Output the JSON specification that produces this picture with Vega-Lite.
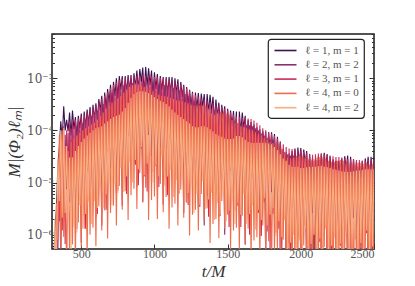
{
"$schema":"https://vega.github.io/schema/vega-lite/v6.json",
"width":322,"height":215,"autosize":"none",
"padding":{"left":52,"top":34,"right":41,"bottom":37},
"datasets":{"w":[
{"t":300,"a":2e-7,"b":1e-8,"c":1e-7,"d":1e-8,"e":1e-7},
{"t":310,"a":3e-7,"b":1e-7,"c":1e-8,"d":2e-7,"e":1e-8},
{"t":320,"a":1e-6,"b":1e-8,"c":5e-7,"d":1e-8,"e":2e-6},
{"t":330,"a":3e-6,"b":2e-6,"c":1e-7,"d":4e-6,"e":2e-7},
{"t":340,"a":2e-5,"b":4.5e-7,"c":1e-5,"d":8e-7,"e":3e-5},
{"t":350,"a":4.7e-5,"b":3.4e-5,"c":1.8e-6,"d":8e-5,"e":4.4e-6},
{"t":360,"a":1.5e-4,"b":3e-7,"c":8e-5,"d":5.4e-7,"e":1e-4},
{"t":370,"a":6.6e-5,"b":7.5e-5,"c":1.2e-6,"d":1e-4,"e":2.1e-6},
{"t":380,"a":2.9e-4,"b":1.8e-6,"c":1.2e-4,"d":9e-7,"e":1.1e-4},
{"t":390,"a":1e-4,"b":8.2e-5,"c":6.6e-7,"d":5e-5,"e":2.6e-6},
{"t":400,"a":1.6e-4,"b":7.5e-6,"c":1e-4,"d":1.4e-7,"e":5e-5},
{"t":410,"a":9.5e-5,"b":9e-5,"c":3.6e-6,"d":4e-5,"e":2e-6},
{"t":420,"a":2.2e-4,"b":4.2e-6,"c":1.4e-4,"d":4e-7,"e":3e-5},
{"t":430,"a":8e-5,"b":1.1e-4,"c":2.2e-6,"d":6e-5,"e":5e-7},
{"t":440,"a":2.4e-4,"b":3.6e-6,"c":1.6e-4,"d":6.5e-7,"e":3e-5},
{"t":450,"a":1.05e-4,"b":1.2e-4,"c":3.3e-6,"d":7e-5,"e":1.4e-6},
{"t":460,"a":1.8e-4,"b":1.3e-6,"c":1.6e-4,"d":3e-7,"e":4e-5},
{"t":470,"a":7.4e-5,"b":1.2e-4,"c":1.3e-6,"d":8e-5,"e":1.1e-6},
{"t":480,"a":1.9e-4,"b":7.8e-6,"c":1.7e-4,"d":1.7e-6,"e":5e-5},
{"t":490,"a":1.1e-4,"b":1.35e-4,"c":7.2e-6,"d":9e-5,"e":3.7e-6},
{"t":500,"a":2.1e-4,"b":7e-7,"c":1.85e-4,"d":5.7e-7,"e":6e-5},
{"t":510,"a":6.6e-5,"b":1.4e-4,"c":2.3e-6,"d":1e-4,"e":1.3e-6},
{"t":520,"a":2.3e-4,"b":3e-6,"c":2e-4,"d":1.3e-6,"e":7e-5},
{"t":530,"a":1.1e-4,"b":1.6e-4,"c":1.3e-6,"d":1.1e-4,"e":2.5e-6},
{"t":540,"a":2.5e-4,"b":1.65e-5,"c":2.2e-4,"d":3.5e-7,"e":8e-5},
{"t":550,"a":1.3e-4,"b":1.7e-4,"c":6.9e-6,"d":1.2e-4,"e":4.3e-6},
{"t":560,"a":2.8e-4,"b":7.2e-6,"c":2.4e-4,"d":1e-6,"e":9e-5},
{"t":570,"a":1e-4,"b":1.9e-4,"c":3.8e-6,"d":1.3e-4,"e":1.6e-6},
{"t":580,"a":3.1e-4,"b":5.9e-6,"c":2.6e-4,"d":1.35e-6,"e":1e-4},
{"t":590,"a":1.6e-4,"b":2.05e-4,"c":5.5e-6,"d":1.4e-4,"e":4.4e-6},
{"t":600,"a":3.3e-4,"b":2.2e-6,"c":2.9e-4,"d":6e-7,"e":1.1e-4},
{"t":610,"a":1.5e-4,"b":2.4e-4,"c":2.5e-6,"d":1.6e-4,"e":3.2e-6},
{"t":620,"a":4e-4,"b":1.5e-5,"c":3.4e-4,"d":3.5e-6,"e":1.15e-4},
{"t":630,"a":2.4e-4,"b":2.8e-4,"c":1.5e-5,"d":1.9e-4,"e":9.5e-6},
{"t":640,"a":4.6e-4,"b":1.5e-6,"c":4e-4,"d":1.2e-6,"e":1.2e-4},
{"t":650,"a":1.5e-4,"b":3.2e-4,"c":5.2e-6,"d":2.2e-4,"e":3.2e-6},
{"t":660,"a":5.3e-4,"b":6.9e-6,"c":4.6e-4,"d":2.9e-6,"e":1.35e-4},
{"t":670,"a":2.6e-4,"b":3.75e-4,"c":3e-6,"d":2.6e-4,"e":5.9e-6},
{"t":680,"a":6.2e-4,"b":4e-5,"c":5.4e-4,"d":8.4e-7,"e":1.5e-4},
{"t":690,"a":3.4e-4,"b":4.4e-4,"c":1.8e-5,"d":3e-4,"e":1e-5},
{"t":700,"a":7.5e-4,"b":1.9e-5,"c":6.4e-4,"d":2.6e-6,"e":1.65e-4},
{"t":710,"a":2.8e-4,"b":5.2e-4,"c":1e-5,"d":3.4e-4,"e":3.7e-6},
{"t":720,"a":8.5e-4,"b":1.7e-5,"c":7.4e-4,"d":3.6e-6,"e":1.8e-4},
{"t":730,"a":4.6e-4,"b":5.9e-4,"c":1.6e-5,"d":3.7e-4,"e":9.4e-6},
{"t":740,"a":1e-3,"b":6.3e-6,"c":8.4e-4,"d":1.5e-6,"e":1.9e-4},
{"t":750,"a":4.2e-4,"b":6.6e-4,"c":7e-6,"d":4e-4,"e":6.3e-6},
{"t":760,"a":1.1e-3,"b":4.1e-5,"c":9.2e-4,"d":8.6e-6,"e":2e-4},
{"t":770,"a":6e-4,"b":7e-4,"c":3.8e-5,"d":4.6e-4,"e":1.9e-5},
{"t":780,"a":1.1e-3,"b":3.6e-6,"c":9.6e-4,"d":3e-6,"e":2.3e-4},
{"t":790,"a":3.3e-4,"b":7.3e-4,"c":1.2e-5,"d":5.3e-4,"e":6.6e-6},
{"t":800,"a":1.1e-3,"b":1.5e-5,"c":1e-3,"d":6.8e-6,"e":2.7e-4},
{"t":810,"a":5e-4,"b":7.6e-4,"c":6e-6,"d":6e-4,"e":1.3e-5},
{"t":820,"a":1.15e-3,"b":7.7e-5,"c":1.03e-3,"d":1.9e-6,"e":3.4e-4},
{"t":830,"a":5.8e-4,"b":7.9e-4,"c":3.2e-5,"d":6.8e-4,"e":2.5e-5},
{"t":840,"a":1.15e-3,"b":3.2e-5,"c":1.06e-3,"d":5.7e-6,"e":4.2e-4},
{"t":850,"a":4.2e-4,"b":8e-4,"c":1.6e-5,"d":7.4e-4,"e":1e-5},
{"t":860,"a":1.25e-3,"b":2.4e-5,"c":1.08e-3,"d":7.6e-6,"e":5e-4},
{"t":870,"a":6.6e-4,"b":8.2e-4,"c":2.2e-5,"d":7.7e-4,"e":2.7e-5},
{"t":880,"a":1.4e-3,"b":8.3e-6,"c":1.1e-3,"d":3.1e-6,"e":5.4e-4},
{"t":890,"a":5.8e-4,"b":8.3e-4,"c":8.9e-6,"d":7.6e-4,"e":1.8e-5},
{"t":900,"a":1.5e-3,"b":5.1e-5,"c":1.13e-3,"d":1.5e-5,"e":5.6e-4},
{"t":910,"a":8.5e-4,"b":8.5e-4,"c":4.5e-5,"d":7.2e-4,"e":4.8e-5},
{"t":920,"a":1.6e-3,"b":4.2e-6,"c":1.13e-3,"d":4.2e-6,"e":5.6e-4},
{"t":930,"a":4.9e-4,"b":8.4e-4,"c":1.3e-5,"d":6.8e-4,"e":1.4e-5},
{"t":940,"a":1.65e-3,"b":1.7e-5,"c":1.12e-3,"d":7.9e-6,"e":5.5e-4},
{"t":950,"a":7.2e-4,"b":8.3e-4,"c":6.7e-6,"d":6.4e-4,"e":2.3e-5},
{"t":960,"a":1.55e-3,"b":8.2e-5,"c":1.1e-3,"d":1.9e-6,"e":5.2e-4},
{"t":970,"a":7.4e-4,"b":8.2e-4,"c":3.3e-5,"d":6e-4,"e":3.3e-5},
{"t":980,"a":1.4e-3,"b":3.2e-5,"c":1.08e-3,"d":4.6e-6,"e":4.8e-4},
{"t":990,"a":4.7e-4,"b":8e-4,"c":1.6e-5,"d":5.6e-4,"e":1e-5},
{"t":1000,"a":1.3e-3,"b":2.4e-5,"c":1.06e-3,"d":5.4e-6,"e":4.3e-4},
{"t":1010,"a":6.2e-4,"b":7.9e-4,"c":2.1e-5,"d":5.1e-4,"e":2.2e-5},
{"t":1020,"a":1.2e-3,"b":7.8e-6,"c":1.04e-3,"d":2e-6,"e":4e-4},
{"t":1030,"a":4.6e-4,"b":7.7e-4,"c":8.2e-6,"d":4.8e-4,"e":1.3e-5},
{"t":1040,"a":1.1e-3,"b":4.6e-5,"c":1.02e-3,"d":9.4e-6,"e":3.7e-4},
{"t":1050,"a":5.9e-4,"b":7.6e-4,"c":4e-5,"d":4.6e-4,"e":3.2e-5},
{"t":1060,"a":1.05e-3,"b":3.8e-6,"c":1e-3,"d":2.7e-6,"e":3.5e-4},
{"t":1070,"a":3.2e-4,"b":7.4e-4,"c":1.2e-5,"d":4.5e-4,"e":8.8e-6},
{"t":1080,"a":1.05e-3,"b":1.5e-5,"c":9.7e-4,"d":5.3e-6,"e":3.2e-4},
{"t":1090,"a":4.7e-4,"b":7.1e-4,"c":5.7e-6,"d":4.4e-4,"e":1.3e-5},
{"t":1100,"a":1.05e-3,"b":7e-5,"c":9.3e-4,"d":1.3e-6,"e":2.9e-4},
{"t":1110,"a":5.2e-4,"b":6.8e-4,"c":2.7e-5,"d":4.2e-4,"e":1.8e-5},
{"t":1120,"a":1.05e-3,"b":2.6e-5,"c":8.8e-4,"d":3.3e-6,"e":2.5e-4},
{"t":1130,"a":3.6e-4,"b":6.4e-4,"c":1.3e-5,"d":4e-4,"e":5.3e-6},
{"t":1140,"a":1e-3,"b":1.9e-5,"c":8.4e-4,"d":3.9e-6,"e":2.2e-4},
{"t":1150,"a":4.9e-4,"b":6.1e-4,"c":1.6e-5,"d":3.8e-4,"e":1.1e-5},
{"t":1160,"a":9.5e-4,"b":6e-6,"c":8e-4,"d":1.5e-6,"e":2e-4},
{"t":1170,"a":3.6e-4,"b":5.8e-4,"c":6.2e-6,"d":3.7e-4,"e":6.2e-6},
{"t":1180,"a":8.5e-4,"b":3.4e-5,"c":7.6e-4,"d":7.3e-6,"e":1.8e-4},
{"t":1190,"a":4.4e-4,"b":5.5e-4,"c":2.9e-5,"d":3.6e-4,"e":1.5e-5},
{"t":1200,"a":7.5e-4,"b":2.6e-6,"c":7e-4,"d":2.1e-6,"e":1.65e-4},
{"t":1210,"a":2.1e-4,"b":5e-4,"c":8e-6,"d":3.5e-4,"e":4.2e-6},
{"t":1220,"a":6.8e-4,"b":9.6e-6,"c":6.4e-4,"d":4.1e-6,"e":1.5e-4},
{"t":1230,"a":2.9e-4,"b":4.6e-4,"c":3.7e-6,"d":3.3e-4,"e":6.3e-6},
{"t":1240,"a":6e-4,"b":4.4e-5,"c":5.8e-4,"d":9.6e-7,"e":1.35e-4},
{"t":1250,"a":2.9e-4,"b":4.1e-4,"c":1.65e-5,"d":3.1e-4,"e":8.5e-6},
{"t":1260,"a":5.5e-4,"b":1.6e-5,"c":5.2e-4,"d":2.4e-6,"e":1.2e-4},
{"t":1270,"a":1.9e-4,"b":3.7e-4,"c":7.4e-6,"d":3e-4,"e":2.6e-6},
{"t":1280,"a":5.3e-4,"b":1.05e-5,"c":4.7e-4,"d":3e-6,"e":1.15e-4},
{"t":1290,"a":2.6e-4,"b":3.4e-4,"c":9.1e-6,"d":3e-4,"e":6e-6},
{"t":1300,"a":5.2e-4,"b":3.3e-6,"c":4.4e-4,"d":1.2e-6,"e":1.15e-4},
{"t":1310,"a":2.1e-4,"b":3.2e-4,"c":3.4e-6,"d":3e-4,"e":3.8e-6},
{"t":1320,"a":5.1e-4,"b":1.9e-5,"c":4.1e-4,"d":6e-6,"e":1.2e-4},
{"t":1330,"a":2.8e-4,"b":3e-4,"c":1.6e-5,"d":3e-4,"e":1.06e-5},
{"t":1340,"a":5e-4,"b":1.5e-6,"c":3.9e-4,"d":1.8e-6,"e":1.2e-4},
{"t":1350,"a":1.5e-4,"b":2.85e-4,"c":4.6e-6,"d":2.9e-4,"e":3.1e-6},
{"t":1360,"a":5e-4,"b":5.6e-6,"c":3.7e-4,"d":3.2e-6,"e":1.15e-4},
{"t":1370,"a":2.2e-4,"b":2.7e-4,"c":2.2e-6,"d":2.5e-4,"e":4.7e-6},
{"t":1380,"a":4.8e-4,"b":2.6e-5,"c":3.5e-4,"d":6.9e-7,"e":1.05e-4},
{"t":1390,"a":2.3e-4,"b":2.55e-4,"c":1e-5,"d":2.1e-4,"e":6.4e-6},
{"t":1400,"a":4.4e-4,"b":1e-5,"c":3.3e-4,"d":1.6e-6,"e":9.5e-5},
{"t":1410,"a":1.45e-4,"b":2.4e-4,"c":4.8e-6,"d":2e-4,"e":1.9e-6},
{"t":1420,"a":3.9e-4,"b":7e-6,"c":3.1e-4,"d":2e-6,"e":8.5e-5},
{"t":1430,"a":1.8e-4,"b":2.3e-4,"c":6.1e-6,"d":2.1e-4,"e":4.1e-6},
{"t":1440,"a":3.4e-4,"b":2.2e-6,"c":3e-4,"d":8.6e-7,"e":8e-5},
{"t":1450,"a":1.3e-4,"b":2.2e-4,"c":2.3e-6,"d":2.2e-4,"e":2.4e-6},
{"t":1460,"a":3.1e-4,"b":1.3e-5,"c":2.8e-4,"d":4.4e-6,"e":7.5e-5},
{"t":1470,"a":1.65e-4,"b":2e-4,"c":1.1e-5,"d":2.2e-4,"e":6.2e-6},
{"t":1480,"a":2.9e-4,"b":1e-6,"c":2.6e-4,"d":1.3e-6,"e":7e-5},
{"t":1490,"a":8.2e-5,"b":1.9e-4,"c":3e-6,"d":2.1e-4,"e":1.8e-6},
{"t":1500,"a":2.6e-4,"b":3.6e-6,"c":2.4e-4,"d":2.4e-6,"e":6.8e-5},
{"t":1510,"a":1.1e-4,"b":1.7e-4,"c":1.4e-6,"d":1.9e-4,"e":2.9e-6},
{"t":1520,"a":2.4e-4,"b":1.65e-5,"c":2.2e-4,"d":5.2e-7,"e":6.8e-5},
{"t":1530,"a":1.2e-4,"b":1.6e-4,"c":6.3e-6,"d":1.6e-4,"e":4.4e-6},
{"t":1540,"a":2.35e-4,"b":6e-6,"c":2e-4,"d":1.2e-6,"e":7e-5},
{"t":1550,"a":8.1e-5,"b":1.45e-4,"c":2.9e-6,"d":1.4e-4,"e":1.6e-6},
{"t":1560,"a":2.3e-4,"b":4.2e-6,"c":1.85e-4,"d":1.35e-6,"e":7.8e-5},
{"t":1570,"a":4e-6,"b":1.37e-4,"c":3.6e-6,"d":1.3e-4,"e":4e-6},
{"t":1580,"a":2.3e-4,"b":1.35e-6,"c":1.8e-4,"d":5e-7,"e":7.8e-5},
{"t":1590,"a":9e-5,"b":1.33e-4,"c":1.4e-6,"d":1.2e-4,"e":2.4e-6},
{"t":1600,"a":2.2e-4,"b":7.8e-6,"c":1.75e-4,"d":2.3e-6,"e":7.4e-5},
{"t":1610,"a":1.1e-4,"b":1.3e-4,"c":6.9e-6,"d":1.15e-4,"e":6e-6},
{"t":1620,"a":1.9e-4,"b":6.4e-7,"c":1.7e-4,"d":6.7e-7,"e":6.6e-5},
{"t":1630,"a":5.2e-5,"b":1.27e-4,"c":2e-6,"d":1.1e-4,"e":1.6e-6},
{"t":1640,"a":1.6e-4,"b":2.5e-6,"c":1.68e-4,"d":1.3e-6,"e":6e-5},
{"t":1650,"a":6.8e-5,"b":1.25e-4,"c":1e-6,"d":1.05e-4,"e":2.5e-6},
{"t":1660,"a":1.45e-4,"b":1.2e-5,"c":1.65e-4,"d":3.1e-7,"e":5.8e-5},
{"t":1670,"a":6.9e-5,"b":1.2e-4,"c":4.8e-6,"d":1e-4,"e":3.7e-6},
{"t":1680,"a":1.3e-4,"b":4.6e-6,"c":1.55e-4,"d":7.7e-7,"e":5.7e-5},
{"t":1690,"a":4.3e-5,"b":1.1e-4,"c":2.2e-6,"d":9.2e-5,"e":1.25e-6},
{"t":1700,"a":1.15e-4,"b":3.2e-6,"c":1.4e-4,"d":8.9e-7,"e":5.8e-5},
{"t":1710,"a":5.5e-5,"b":1e-4,"c":2.6e-6,"d":8.6e-5,"e":3e-6},
{"t":1720,"a":1.05e-4,"b":9.4e-7,"c":1.25e-4,"d":3.3e-7,"e":5.8e-5},
{"t":1730,"a":4e-5,"b":8.8e-5,"c":9.4e-7,"d":8e-5,"e":1.9e-6},
{"t":1740,"a":9.8e-5,"b":4.9e-6,"c":1.1e-4,"d":1.5e-6,"e":5.8e-5},
{"t":1750,"a":5.3e-5,"b":7.9e-5,"c":4.2e-6,"d":7.2e-5,"e":5e-6},
{"t":1760,"a":9.5e-5,"b":3.8e-7,"c":1e-4,"d":4.1e-7,"e":5.8e-5},
{"t":1770,"a":2.8e-5,"b":7.2e-5,"c":1.15e-6,"d":6.5e-5,"e":1.5e-6},
{"t":1780,"a":9.3e-5,"b":1.4e-6,"c":9.2e-5,"d":7.5e-7,"e":5.6e-5},
{"t":1790,"a":4.2e-5,"b":6.7e-5,"c":5.3e-7,"d":6e-5,"e":2.4e-6},
{"t":1800,"a":9.2e-5,"b":6.5e-6,"c":8.6e-5,"d":1.8e-7,"e":5.4e-5},
{"t":1810,"a":4.4e-5,"b":6.1e-5,"c":2.5e-6,"d":5.8e-5,"e":3.2e-6},
{"t":1820,"a":8.5e-5,"b":2.3e-6,"c":7.8e-5,"d":4.6e-7,"e":4.8e-5},
{"t":1830,"a":2.8e-5,"b":5.5e-5,"c":1.1e-6,"d":5.6e-5,"e":9.4e-7},
{"t":1840,"a":7.5e-5,"b":1.6e-6,"c":7e-5,"d":5.4e-7,"e":4.2e-5},
{"t":1850,"a":3.4e-5,"b":5e-5,"c":1.3e-6,"d":5.2e-5,"e":1.8e-6},
{"t":1860,"a":6e-5,"b":4.7e-7,"c":6.2e-5,"d":1.9e-7,"e":3.5e-5},
{"t":1870,"a":2.1e-5,"b":4.3e-5,"c":4.6e-7,"d":4.4e-5,"e":9e-7},
{"t":1880,"a":4.5e-5,"b":2.4e-6,"c":5.4e-5,"d":8e-7,"e":2.9e-5},
{"t":1890,"a":2.3e-5,"b":3.8e-5,"c":2e-6,"d":3.6e-5,"e":1.9e-6},
{"t":1900,"a":3.8e-5,"b":1.8e-7,"c":4.8e-5,"d":2e-7,"e":2.6e-5},
{"t":1910,"a":1.1e-5,"b":3.5e-5,"c":5.6e-7,"d":3e-5,"e":4.8e-7},
{"t":1920,"a":3.6e-5,"b":6.8e-7,"c":4.5e-5,"d":3.5e-7,"e":2.2e-5},
{"t":1930,"a":1.7e-5,"b":3.3e-5,"c":2.7e-7,"d":2.9e-5,"e":7e-7},
{"t":1940,"a":4e-5,"b":3.3e-6,"c":4.4e-5,"d":9e-8,"e":2e-5},
{"t":1950,"a":2.1e-5,"b":3.25e-5,"c":1.3e-6,"d":3e-5,"e":1e-6},
{"t":1960,"a":4.5e-5,"b":1.3e-6,"c":4.3e-5,"d":2.5e-7,"e":2e-5},
{"t":1970,"a":1.6e-5,"b":3.2e-5,"c":6.4e-7,"d":3.2e-5,"e":3.4e-7},
{"t":1980,"a":4.7e-5,"b":9.5e-7,"c":4.2e-5,"d":3.2e-7,"e":2e-5},
{"t":1990,"a":2.3e-5,"b":3.1e-5,"c":8.3e-7,"d":3.3e-5,"e":7.8e-7},
{"t":2000,"a":4.6e-5,"b":3.1e-7,"c":4.1e-5,"d":1.3e-7,"e":1.9e-5},
{"t":2010,"a":1.8e-5,"b":3e-5,"c":3.2e-7,"d":3.2e-5,"e":4.8e-7},
{"t":2020,"a":4.3e-5,"b":1.7e-6,"c":3.9e-5,"d":6.2e-7,"e":1.9e-5},
{"t":2030,"a":2.3e-5,"b":2.85e-5,"c":1.5e-6,"d":3e-5,"e":1.3e-6},
{"t":2040,"a":4e-5,"b":1.4e-7,"c":3.7e-5,"d":1.7e-7,"e":1.95e-5},
{"t":2050,"a":1.1e-5,"b":2.7e-5,"c":4.3e-7,"d":2.8e-5,"e":3.9e-7},
{"t":2060,"a":3.5e-5,"b":5.2e-7,"c":3.5e-5,"d":3.3e-7,"e":2e-5},
{"t":2070,"a":1.5e-5,"b":2.6e-5,"c":2.1e-7,"d":2.7e-5,"e":6.6e-7},
{"t":2080,"a":3e-5,"b":2.6e-6,"c":3.4e-5,"d":8e-8,"e":2e-5},
{"t":2090,"a":2e-7,"b":2.6e-5,"c":1e-6,"d":2.8e-5,"e":1e-6},
{"t":2100,"a":2.8e-5,"b":1.1e-6,"c":3.5e-5,"d":2.3e-7,"e":2e-5},
{"t":2110,"a":1.05e-5,"b":2.7e-5,"c":5.3e-7,"d":3e-5,"e":3.5e-7},
{"t":2120,"a":3.2e-5,"b":8e-7,"c":3.6e-5,"d":3e-7,"e":2.05e-5},
{"t":2130,"a":1.7e-5,"b":2.7e-5,"c":7.2e-7,"d":3.1e-5,"e":8.4e-7},
{"t":2140,"a":3.6e-5,"b":2.7e-7,"c":3.6e-5,"d":1.2e-7,"e":2.1e-5},
{"t":2150,"a":1.5e-5,"b":2.65e-5,"c":2.8e-7,"d":3e-5,"e":5.1e-7},
{"t":2160,"a":3.7e-5,"b":1.6e-6,"c":3.5e-5,"d":5.8e-7,"e":2e-5},
{"t":2170,"a":2e-5,"b":2.6e-5,"c":1.4e-6,"d":2.8e-5,"e":1.3e-6},
{"t":2180,"a":3.5e-5,"b":1.3e-7,"c":3.4e-5,"d":1.6e-7,"e":1.95e-5},
{"t":2190,"a":1e-5,"b":2.5e-5,"c":4e-7,"d":2.6e-5,"e":3.8e-7},
{"t":2200,"a":3.2e-5,"b":5e-7,"c":3.3e-5,"d":3.1e-7,"e":1.9e-5},
{"t":2210,"a":1.35e-5,"b":2.4e-5,"c":2e-7,"d":2.5e-5,"e":6.1e-7},
{"t":2220,"a":2.8e-5,"b":2.4e-6,"c":3.2e-5,"d":7.5e-8,"e":1.8e-5},
{"t":2230,"a":1.35e-5,"b":2.35e-5,"c":9.5e-7,"d":2.5e-5,"e":8.8e-7},
{"t":2240,"a":2.6e-5,"b":9.2e-7,"c":3.1e-5,"d":2e-7,"e":1.75e-5},
{"t":2250,"a":9.1e-6,"b":2.3e-5,"c":4.7e-7,"d":2.6e-5,"e":2.9e-7},
{"t":2260,"a":2.6e-5,"b":7e-7,"c":3.1e-5,"d":2.7e-7,"e":1.7e-5},
{"t":2270,"a":1.4e-5,"b":2.3e-5,"c":6.1e-7,"d":2.7e-5,"e":6.7e-7},
{"t":2280,"a":2.9e-5,"b":2.2e-7,"c":3e-5,"d":1.1e-7,"e":1.65e-5},
{"t":2290,"a":1.2e-5,"b":2.2e-5,"c":2.4e-7,"d":2.6e-5,"e":4e-7},
{"t":2300,"a":3.2e-5,"b":1.3e-6,"c":2.9e-5,"d":5e-7,"e":1.6e-5},
{"t":2310,"a":1.8e-5,"b":2.1e-5,"c":1.1e-6,"d":2.4e-5,"e":1.07e-6},
{"t":2320,"a":3.3e-5,"b":1e-7,"c":2.8e-5,"d":1.4e-7,"e":1.6e-5},
{"t":2330,"a":9.6e-6,"b":2.1e-5,"c":3.4e-7,"d":2.3e-5,"e":3.2e-7},
{"t":2340,"a":3.1e-5,"b":4.2e-7,"c":2.8e-5,"d":2.7e-7,"e":1.6e-5},
{"t":2350,"a":1.3e-5,"b":2.1e-5,"c":1.7e-7,"d":2.2e-5,"e":5.3e-7},
{"t":2360,"a":2.8e-5,"b":2.1e-6,"c":2.8e-5,"d":6.8e-8,"e":1.65e-5},
{"t":2370,"a":1.3e-5,"b":2.05e-5,"c":8.3e-7,"d":2.3e-5,"e":8.4e-7},
{"t":2380,"a":2.5e-5,"b":8e-7,"c":2.7e-5,"d":1.9e-7,"e":1.7e-5},
{"t":2390,"a":8.6e-6,"b":2e-5,"c":4e-7,"d":2.4e-5,"e":2.9e-7},
{"t":2400,"a":2.4e-5,"b":6e-7,"c":2.7e-5,"d":2.4e-7,"e":1.7e-5},
{"t":2410,"a":1.25e-5,"b":2e-5,"c":5.3e-7,"d":2.4e-5,"e":6.9e-7},
{"t":2420,"a":2.6e-5,"b":2e-7,"c":2.6e-5,"d":9.4e-8,"e":1.75e-5},
{"t":2430,"a":1e-6,"b":1.95e-5,"c":2.1e-7,"d":2.3e-5,"e":4.4e-7},
{"t":2440,"a":2.9e-5,"b":1.2e-6,"c":2.6e-5,"d":4.6e-7,"e":1.8e-5},
{"t":2450,"a":1.65e-5,"b":2e-5,"c":1.06e-6,"d":2.3e-5,"e":1.2e-6},
{"t":2460,"a":3.1e-5,"b":1e-7,"c":2.7e-5,"d":1.35e-7,"e":1.8e-5},
{"t":2470,"a":9.3e-6,"b":2e-5,"c":3.2e-7,"d":2.2e-5,"e":3.6e-7},
{"t":2480,"a":3.1e-5,"b":4e-7,"c":2.7e-5,"d":2.6e-7,"e":1.8e-5},
{"t":2490,"a":1.4e-5,"b":2e-5,"c":1.6e-7,"d":2.2e-5,"e":5.9e-7},
{"t":2500,"a":3e-5,"b":2e-6,"c":2.7e-5,"d":6.6e-8,"e":1.8e-5}
]},
"data":{"name":"w"},
"layer":[
{"mark":{"type":"line","clip":true,"strokeWidth":1.1},
 "encoding":{
  "x":{"field":"t","type":"quantitative","scale":{"domain":[300,2500],"nice":false,"zero":false},
   "axis":{"values":[500,1000,1500,2000,2500],"format":"d","title":"t/M","tickSize":-5,"labelPadding":4,"titlePadding":4}},
  "y":{"field":"a","type":"quantitative","scale":{"type":"log","domain":[5.3e-7,7.06e-3],"nice":false},
   "axis":{"orient":"left","title":"M|(Φ₂)ℓₘ|","titlePadding":3,"labelPadding":4,"labelFont":"DejaVu Serif","labelFontSize":12,
    "values":[6e-7,7e-7,8e-7,9e-7,1e-6,2e-6,3e-6,4e-6,5e-6,6e-6,7e-6,8e-6,9e-6,1e-5,2e-5,3e-5,4e-5,5e-5,6e-5,7e-5,8e-5,9e-5,1e-4,2e-4,3e-4,4e-4,5e-4,6e-4,7e-4,8e-4,9e-4,1e-3,2e-3,3e-3,4e-3,5e-3,6e-3,7e-3],
    "labelExpr":"datum.value==1e-6?'10⁻⁶':datum.value==1e-5?'10⁻⁵':datum.value==1e-4?'10⁻⁴':datum.value==1e-3?'10⁻³':''",
    "tickSize":{"condition":{"test":"indexof([1e-6,1e-5,1e-4,1e-3],datum.value)>=0","value":-5},"value":-2.5}}},
  "color":{"datum":"ℓ = 1, m = 1","type":"nominal","scale":{"domain":["ℓ = 1, m = 1","ℓ = 2, m = 2","ℓ = 3, m = 1","ℓ = 4, m = 0","ℓ = 4, m = 2"],"range":["#3d1152","#883272","#cc2a5b","#f06c4b","#f8ae80"]}}}},
{"mark":{"type":"line","clip":true,"strokeWidth":1.1},
 "encoding":{"x":{"field":"t","type":"quantitative"},"y":{"field":"b","type":"quantitative","axis":null},"color":{"datum":"ℓ = 2, m = 2","type":"nominal"}}},
{"mark":{"type":"line","clip":true,"strokeWidth":1.1},
 "encoding":{"x":{"field":"t","type":"quantitative"},"y":{"field":"c","type":"quantitative","axis":null},"color":{"datum":"ℓ = 3, m = 1","type":"nominal"}}},
{"mark":{"type":"line","clip":true,"strokeWidth":1.1},
 "encoding":{"x":{"field":"t","type":"quantitative"},"y":{"field":"d","type":"quantitative","axis":null},"color":{"datum":"ℓ = 4, m = 0","type":"nominal"}}},
{"mark":{"type":"line","clip":true,"strokeWidth":1.1},
 "encoding":{"x":{"field":"t","type":"quantitative"},"y":{"field":"e","type":"quantitative",
   "axis":{"orient":"right","title":null,"labels":false,
    "values":[6e-7,7e-7,8e-7,9e-7,1e-6,2e-6,3e-6,4e-6,5e-6,6e-6,7e-6,8e-6,9e-6,1e-5,2e-5,3e-5,4e-5,5e-5,6e-5,7e-5,8e-5,9e-5,1e-4,2e-4,3e-4,4e-4,5e-4,6e-4,7e-4,8e-4,9e-4,1e-3,2e-3,3e-3,4e-3,5e-3,6e-3,7e-3],
    "tickSize":{"condition":{"test":"indexof([1e-6,1e-5,1e-4,1e-3],datum.value)>=0","value":-5},"value":-2.5}}},
  "color":{"datum":"ℓ = 4, m = 2","type":"nominal"}}}
],
"resolve":{"axis":{"y":"independent"}},
"config":{
 "font":"Liberation Serif",
 "view":{"stroke":"#1a1a1a","strokeWidth":1.5},
 "axis":{"labelFont":"Liberation Serif","labelFontSize":12,"labelColor":"#555555","titleFont":"Liberation Serif","titleFontSize":17,"titleFontStyle":"italic","titleFontWeight":"normal","titleColor":"#333333","grid":false,"domain":false,"tickColor":"#333333","tickWidth":1},
 "legend":{"orient":"none","legendX":216,"legendY":5,"fillColor":"white","strokeColor":"#222222","strokeWidth":1.2,"cornerRadius":3,"padding":5,"labelFont":"Liberation Serif","labelFontSize":11,"labelColor":"#555555","symbolType":"M-2,0H2","symbolSize":121,"symbolOffset":6,"symbolStrokeWidth":1.6,"rowPadding":2.3,"labelOffset":13,"title":null}
}
}
